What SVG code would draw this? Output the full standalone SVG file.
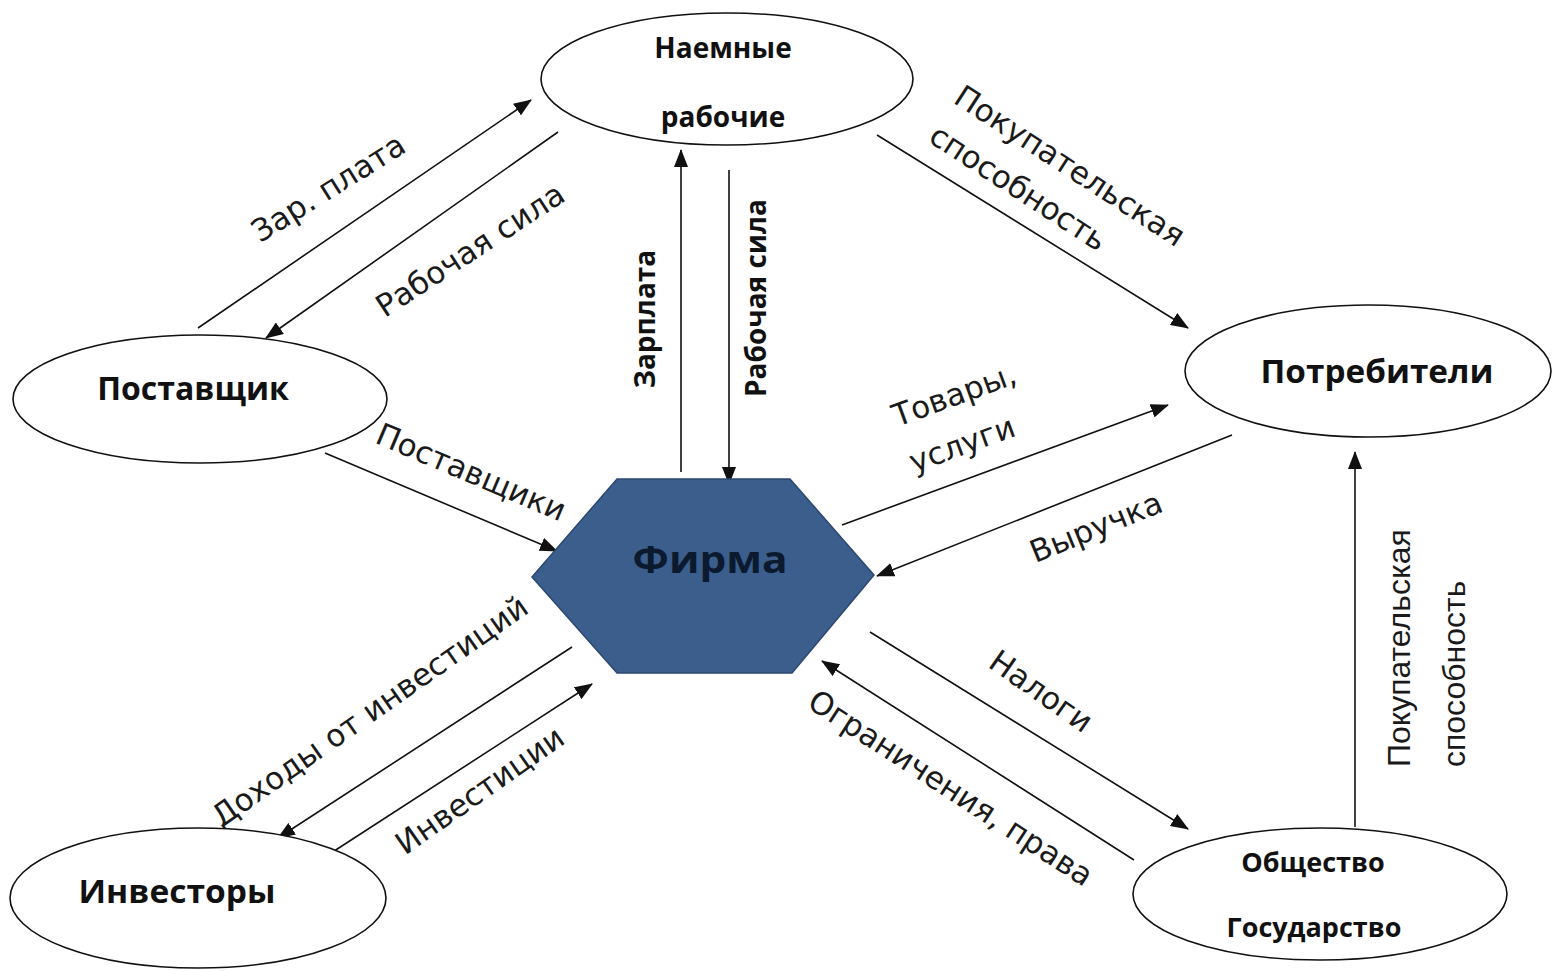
<svg xmlns="http://www.w3.org/2000/svg" width="1552" height="971" viewBox="0 0 1552 971">
<style>
.node{fill:#ffffff;stroke:#111111;stroke-width:1.6}
.nl{font-family:"Open Sans","Noto Sans",sans-serif;font-weight:bold;fill:#111111;text-anchor:middle}
.lbl{font-family:"DejaVu Sans","Noto Sans",sans-serif;font-size:31px;fill:#1a1a1a}
.lblv{font-family:"Open Sans","Noto Sans",sans-serif;font-weight:bold;font-size:28px;fill:#111111;text-anchor:middle}
.lbla{font-family:"Liberation Sans",Arial,sans-serif;font-size:32px;fill:#1a1a1a}
.c{stroke:#111111;stroke-width:1.6;fill:none;marker-end:url(#ah)}
.m{text-anchor:middle}
</style>
<defs>
<marker id="ah" markerUnits="userSpaceOnUse" markerWidth="18" markerHeight="14" refX="17" refY="7" orient="auto">
<path d="M0,0 L18,7 L0,14 z" fill="#111111"/>
</marker>
</defs>
<rect width="1552" height="971" fill="#ffffff"/>
<g id="connectors">
<line class="c" x1="198" y1="328" x2="531" y2="100"/>
<line class="c" x1="558" y1="132" x2="266" y2="338"/>
<line class="c" x1="681" y1="472" x2="681" y2="150"/>
<line class="c" x1="729" y1="170" x2="729" y2="484"/>
<line class="c" x1="877" y1="135" x2="1188" y2="328"/>
<line class="c" x1="842" y1="525" x2="1168" y2="405"/>
<line class="c" x1="1232" y1="435" x2="877" y2="576"/>
<line class="c" x1="325" y1="453" x2="557" y2="551"/>
<line class="c" x1="572" y1="647" x2="278" y2="838"/>
<line class="c" x1="328" y1="855" x2="592" y2="684"/>
<line class="c" x1="870" y1="632" x2="1188" y2="829"/>
<line class="c" x1="1134" y1="860" x2="822" y2="661"/>
<line class="c" x1="1355" y1="827" x2="1355" y2="452"/>
</g>
<g id="labels">
<text class="lbl m" x="334" y="197" transform="rotate(-32 334 197)">Зар. плата</text>
<text class="lbl m" x="476" y="259" transform="rotate(-33 476 259)">Рабочая сила</text>
<text class="lblv" x="655" y="319" transform="rotate(-90 655 319)">Зарплата</text>
<text class="lblv" x="766" y="298" transform="rotate(-90 766 298)">Рабочая сила</text>
<text class="lbl" x="952" y="102" transform="rotate(33 952 102)">Покупательская</text>
<text class="lbl" x="927" y="141" transform="rotate(33 927 141)">способность</text>
<text class="lbl m" x="467" y="482" transform="rotate(23 467 482)">Поставщики</text>
<text class="lbl" x="897" y="427" transform="rotate(-20 897 427)">Товары,</text>
<text class="lbl" x="914" y="473" transform="rotate(-20 914 473)">услуги</text>
<text class="lbl m" x="1100" y="537" transform="rotate(-22 1100 537)">Выручка</text>
<text class="lbl m" x="376" y="720" transform="rotate(-35 376 720)">Доходы от инвестиций</text>
<text class="lbl m" x="486" y="799" transform="rotate(-35 486 799)">Инвестиции</text>
<text class="lbl m" x="1035" y="700" transform="rotate(35 1035 700)">Налоги</text>
<text class="lbl m" x="945" y="797" transform="rotate(33 945 797)">Ограничения, права</text>
<text class="lbla" x="1410" y="767" transform="rotate(-90 1410 767)">Покупательская</text>
<text class="lbla" x="1465" y="767" transform="rotate(-90 1465 767)">способность</text>
</g>
<g id="node-workers">
<ellipse class="node" cx="727" cy="79" rx="186" ry="66"/>
<text class="nl" x="723" y="58" font-size="28">Наемные</text>
<text class="nl" x="723" y="127" font-size="28">рабочие</text>
</g>
<g id="node-supplier">
<ellipse class="node" cx="200" cy="399" rx="187" ry="64"/>
<text class="nl" x="193" y="400" font-size="32">Поставщик</text>
</g>
<g id="node-consumers">
<ellipse class="node" cx="1368" cy="371" rx="183" ry="66"/>
<text class="nl" x="1377" y="383" font-size="32" textLength="233" lengthAdjust="spacingAndGlyphs">Потребители</text>
</g>
<g id="node-investors">
<ellipse class="node" cx="198" cy="898" rx="188" ry="70"/>
<text class="nl" x="177" y="903" font-size="32" textLength="197" lengthAdjust="spacingAndGlyphs">Инвесторы</text>
</g>
<g id="node-society">
<ellipse class="node" cx="1320" cy="894" rx="187" ry="66"/>
<text class="nl" x="1313" y="872" font-size="27">Общество</text>
<text class="nl" x="1314" y="937" font-size="27">Государство</text>
</g>
<g id="node-firm">
<polygon points="617,479 790,479 874,575 792,673 617,673 532,577" fill="#3b5e8c" stroke="#2c4870" stroke-width="1.5"/>
<text class="nl" x="710" y="573" font-size="38" fill="#0b1a2e" textLength="155" lengthAdjust="spacingAndGlyphs" style="fill:#0b1a2e">Фирма</text>
</g>
</svg>
